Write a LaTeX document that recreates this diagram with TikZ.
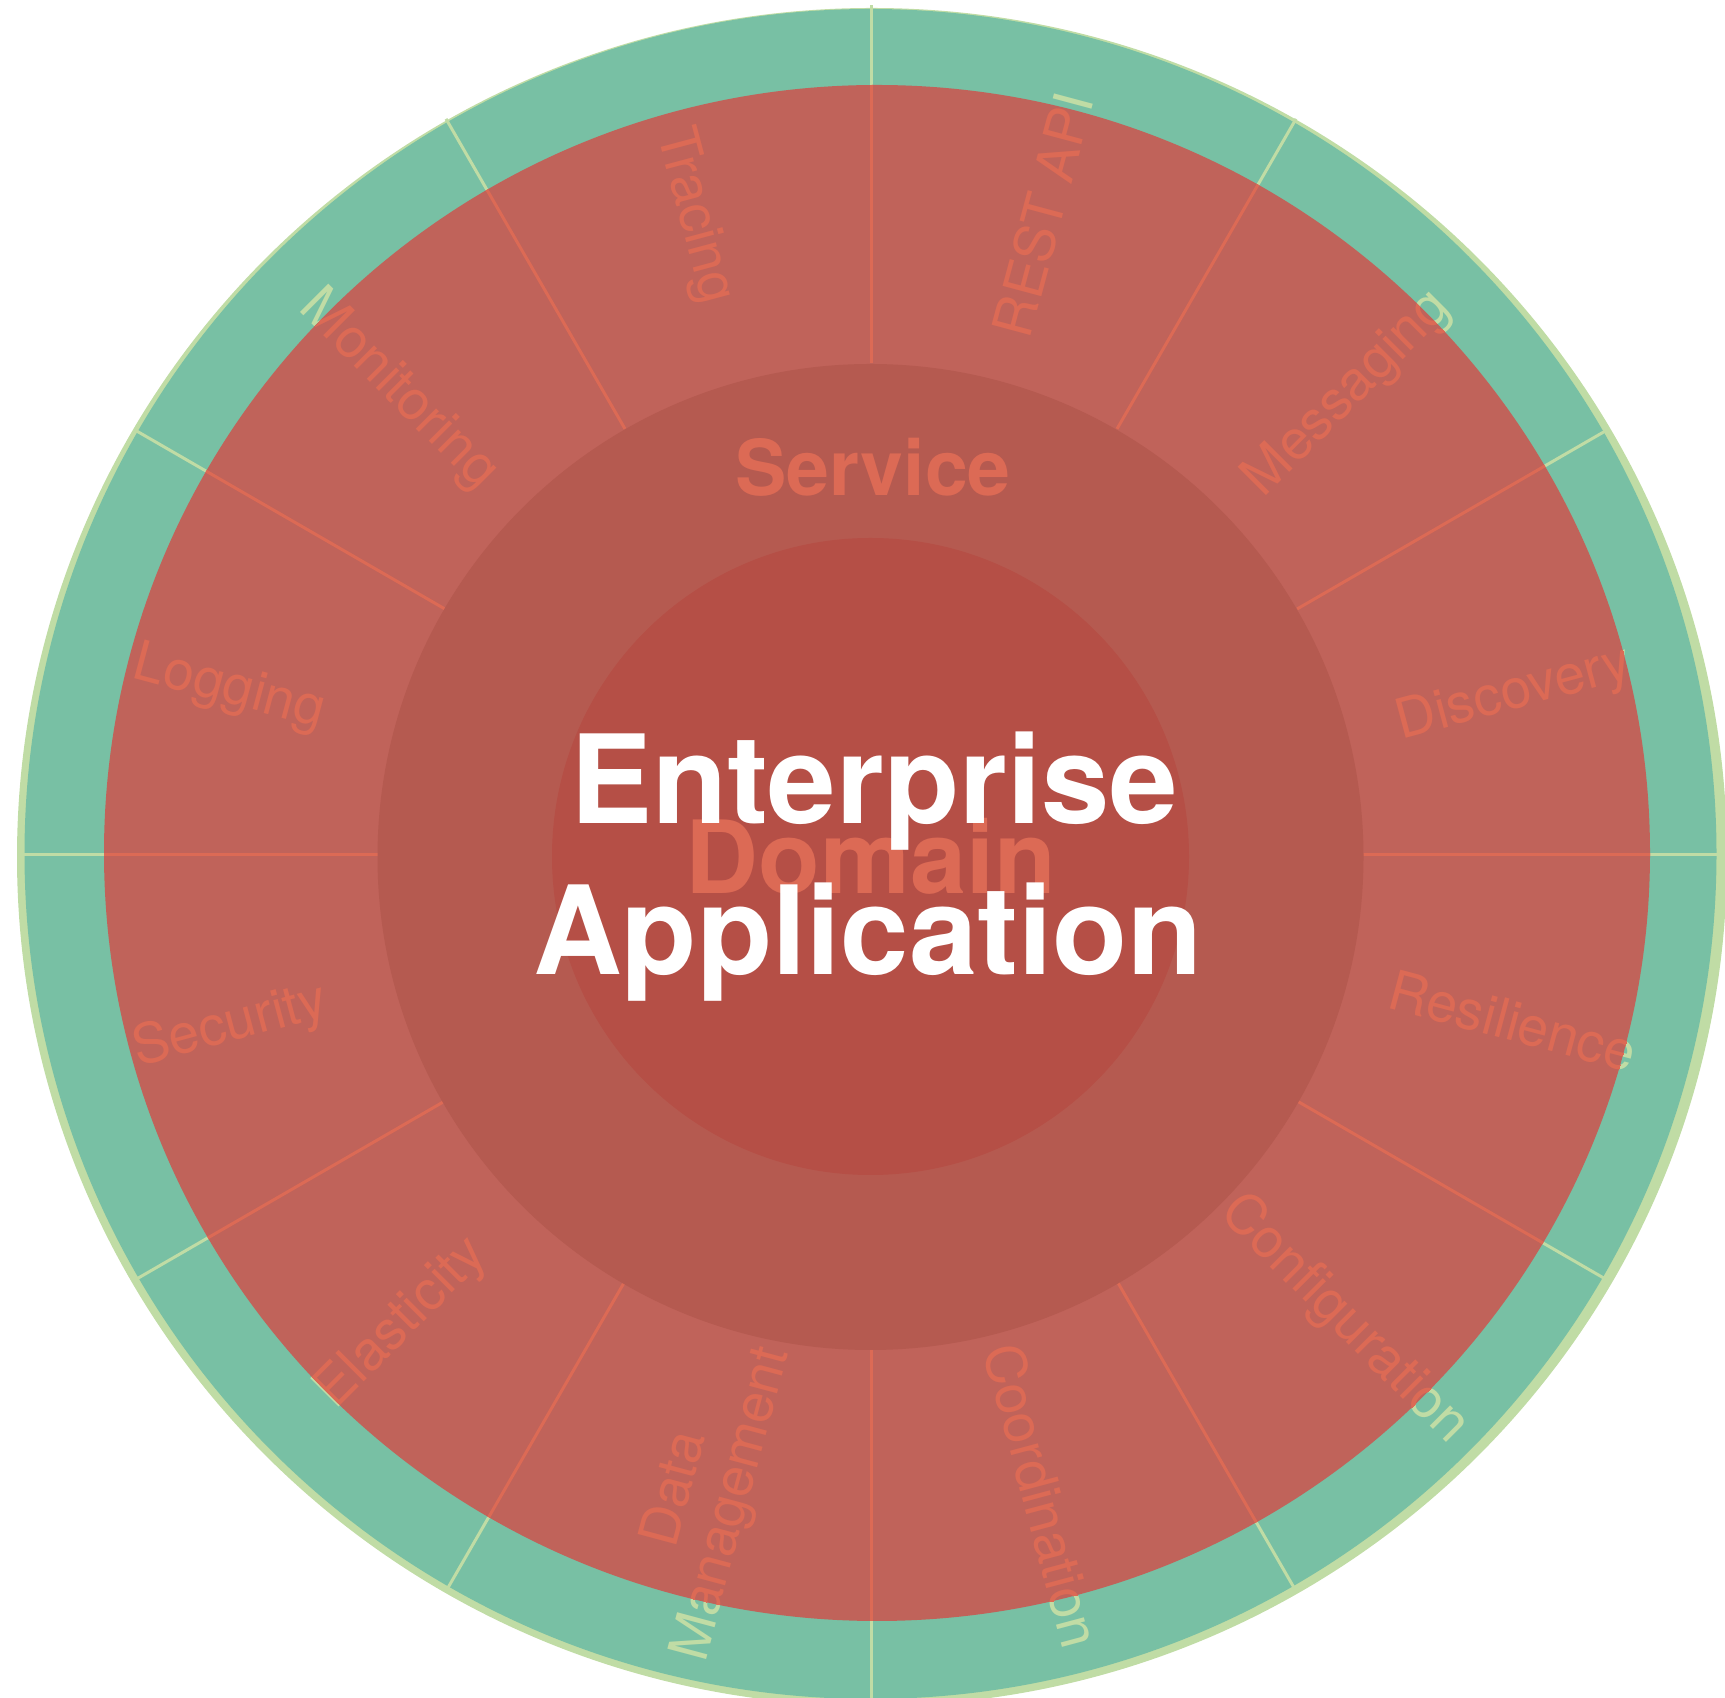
\documentclass[tikz,border=0pt]{standalone}
\usepackage{fontspec}
\setmainfont{TeX Gyre Heros}
\definecolor{ringgreen}{RGB}{120,192,164}
\definecolor{edgegreen}{RGB}{192,220,165}
\definecolor{ringred}{HTML}{C0635A}
\definecolor{svcred}{HTML}{B55A50}
\definecolor{domred}{HTML}{B54F46}
\definecolor{labelorange}{HTML}{DC6A55}
\tikzset{
  lbl/.style={font=\fontsize{55}{58}\selectfont, align=center, inner sep=0pt},
  divider/.style={line width=3pt},
  bigword/.style={font=\fontsize{123}{148}\selectfont\bfseries, text=white, inner sep=0pt, anchor=base},
}
\newcommand{\labellist}{14/Discovery/15/disc, 44/Messaging/45/msg, 75/REST API/75/rest, 105.5/Tracing/-75/trac, 135.5/Monitoring/-45/mon, 165.5/Logging/-15/logg, 195/Security/15/secu, 225/Elasticity/45/elas, 255.5/{Data\\Management}/75/data, 285/Coordination/-75/coord, 315.5/Configuration/-45/conf, 345.5/Resilience/-15/resi}
\begin{document}
\begin{tikzpicture}[x=1pt,y=1pt]
\useasboundingbox (0,0) rectangle (1725,1698);
\clip (0,0) rectangle (1725,1698);
\coordinate (C) at (871,843);
% outer rings
\fill[edgegreen] (872,841) ellipse [x radius=855, y radius=849];
\fill[ringgreen] (870.5,844) ellipse [x radius=846, y radius=845];
% light green parts of dividers and labels (on the green ring)
\begin{scope}[shift={(C)}]
  \foreach \a in {0,30,...,330} \draw[edgegreen, divider] (\a:492) -- (\a:850);
  \foreach \a/\t/\r/\n in \labellist
    \node[lbl, text=edgegreen, rotate=\r] (\n-g) at (\a:663) {\t};
\end{scope}
% red ring
\fill[ringred] (877,845) ellipse [x radius=773, y radius=768];
\begin{scope}
  \clip (877,845) ellipse [x radius=773, y radius=768];
  \begin{scope}[shift={(C)}]
    \foreach \a in {0,30,...,330} \draw[labelorange, divider] (\a:492) -- (\a:800);
    \foreach \a/\t/\r/\n in \labellist
      \node[lbl, text=labelorange, rotate=\r] (\n) at (\a:663) {\t};
  \end{scope}
\end{scope}
% service circle
\fill[svcred] (870.5,841) circle [radius=493];
\node[font=\fontsize{77}{90}\selectfont\bfseries, text=labelorange, inner sep=0pt, anchor=base] (svc) at (873,1202) {Service};
% domain circle
\fill[domred] (870.5,841.5) circle [radius=318.5];
\node[font=\fontsize{101}{120}\selectfont\bfseries, text=labelorange, inner sep=0pt, anchor=base] (dom) at (871,804) {Domain};
\node[bigword] (ent) at (874,874) {Enterprise};
\node[bigword] (app) at (868,723) {Application};
\end{tikzpicture}
\end{document}
